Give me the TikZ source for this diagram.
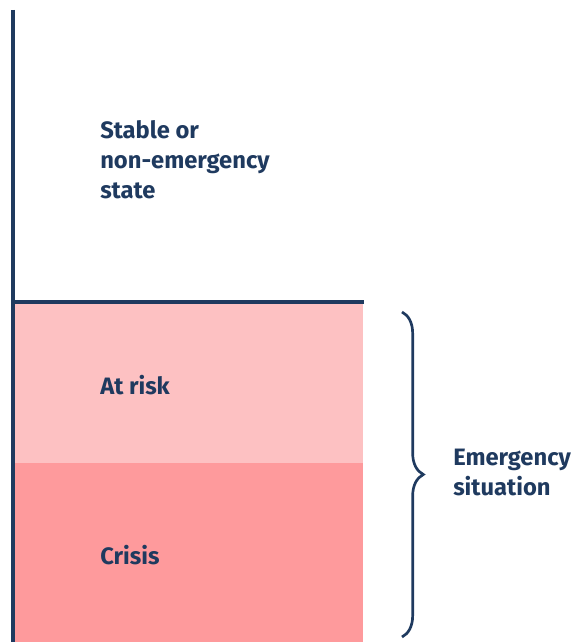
\documentclass[tikz,border=0pt]{standalone}
\usepackage{fontspec}
\setmainfont{Fira Sans}
\usetikzlibrary{decorations.pathreplacing,positioning}
\definecolor{navy}{HTML}{1F3A5F}
\definecolor{riskpink}{HTML}{FDC1C2}
\definecolor{crisispink}{HTML}{FE9A9C}
\tikzset{
	axisline/.style={navy, line width=2.6pt},
	band/.style={draw=none, rectangle, anchor=north west, inner sep=0pt},
	zonelabel/.style={text=navy, font=\bfseries\fontsize{17.8}{22.5}\selectfont,
		align=left, anchor=west, inner sep=0pt},
	bracestyle/.style={navy, line width=2pt,
		decorate, decoration={brace, amplitude=16}}
}
\begin{document}
\begin{tikzpicture}[x=0.75pt, y=-0.75pt]
  \useasboundingbox (0,0) rectangle (582,642);
  % bands
  \node[band, fill=riskpink, minimum width=350*0.75pt, minimum height=161*0.75pt]
    (risk) at (13,302) {};
  \node[band, fill=crisispink, minimum width=350*0.75pt, minimum height=180*0.75pt]
    (crisis) at (13,463) {};
  % axes
  \coordinate (top) at (13,10);
  \coordinate (bottom) at (13,642);
  \draw[axisline] (top) -- (bottom);
  \draw[axisline] (risk.north west) -- (risk.north east);
  % labels
  \node[zonelabel] (stable) at (100,160) {Stable or\\non-emergency\\state};
  \node[zonelabel] (atrisk) at (100,385) {At risk};
  \node[zonelabel] (crisislabel) at (100,555) {Crisis};
  % brace
  \coordinate (bracetop) at (402,312);
  \coordinate (bracebot) at (402,637);
  \draw[bracestyle] (bracetop) -- (bracebot);
  \node[zonelabel] (emergency) at (453,472) {Emergency\\situation};
\end{tikzpicture}
\end{document}
